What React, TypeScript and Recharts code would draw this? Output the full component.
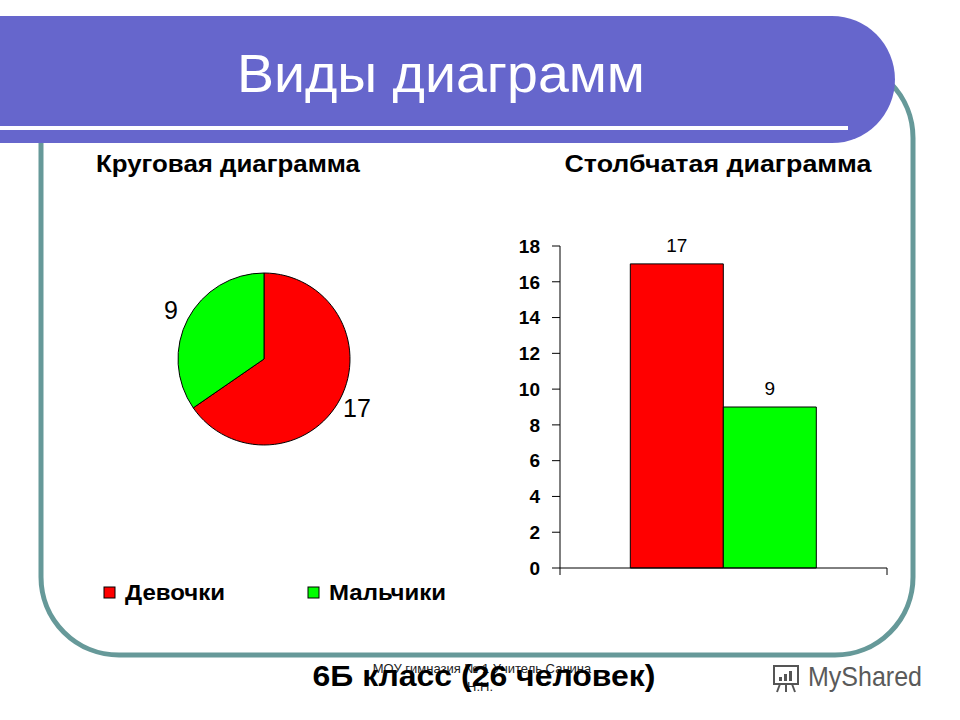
import React from "react";
import {
  PieChart,
  Pie,
  Cell,
  BarChart,
  Bar,
  XAxis,
  YAxis,
  LabelList,
} from "recharts";

// class 6Б: girls / boys
const categories = ["Девочки", "Мальчики"];
const counts = [17, 9];
const colors = ["#FF0000", "#00FF00"];
const barGroup = "6Б";
const yTicks = [0, 2, 4, 6, 8, 10, 12, 14, 16, 18];

const FONT = "'Liberation Sans', Arial, sans-serif";
const RAD = Math.PI / 180;

const pieData = categories.map((name, i) => ({ name, value: counts[i] }));
const barRow: Record<string, any> = { name: barGroup };
categories.forEach((c, i) => (barRow[c] = counts[i]));
const barData = [barRow];

function PieLabel(props: any) {
  const { cx, cy, midAngle, outerRadius, value } = props;
  const r = outerRadius + 19;
  const x = cx + r * Math.cos(-midAngle * RAD);
  const y = cy + r * Math.sin(-midAngle * RAD);
  return (
    <text
      x={x}
      y={y}
      textAnchor="middle"
      dominantBaseline="central"
      fontSize={25}
      fontFamily={FONT}
      fill="#000"
    >
      {value}
    </text>
  );
}

// Excel-style tick marks on the category edges
function EdgeTick(props: any) {
  const { x, y, payload } = props;
  const half = payload && payload.offset ? payload.offset : 0;
  return (
    <g>
      <line x1={x - half} y1={y} x2={x - half} y2={y + 7} stroke="#000" />
      <line x1={x + half} y1={y} x2={x + half} y2={y + 7} stroke="#000" />
    </g>
  );
}

export default function App() {
  return (
    <div
      style={{
        position: "absolute",
        left: 0,
        top: 0,
        width: 960,
        height: 720,
        background: "#fff",
        overflow: "hidden",
        fontFamily: FONT,
      }}
    >
      <svg
        width={960}
        height={720}
        style={{ position: "absolute", left: 0, top: 0 }}
      >
        {/* frame */}
        <rect
          x={41}
          y={60}
          width={872}
          height={595}
          rx={78}
          ry={78}
          fill="none"
          stroke="#669999"
          strokeWidth={5}
        />
        {/* title bar */}
        <path d="M0,16 H832 A63,63.5 0 0 1 832,143 H0 Z" fill="#6666CC" />
        <rect x={0} y={126} width={848} height={4} fill="#fff" />
        <text
          x={441}
          y={92}
          textAnchor="middle"
          fontSize={54}
          fill="#fff"
          textLength={408}
          lengthAdjust="spacingAndGlyphs"
        >
          Виды диаграмм
        </text>
        <text
          x={228}
          y={172}
          textAnchor="middle"
          fontSize={24}
          fontWeight="bold"
          fill="#000"
          textLength={264}
          lengthAdjust="spacingAndGlyphs"
        >
          Круговая диаграмма
        </text>
        <text
          x={718}
          y={172}
          textAnchor="middle"
          fontSize={24}
          fontWeight="bold"
          fill="#000"
          textLength={307}
          lengthAdjust="spacingAndGlyphs"
        >
          Столбчатая диаграмма
        </text>

        {/* pie legend */}
        {categories.map((c, i) => {
          const x0 = i === 0 ? 104 : 308;
          const w = i === 0 ? 100 : 117;
          return (
            <g key={c}>
              <rect
                x={x0}
                y={587}
                width={11}
                height={11}
                fill={colors[i]}
                stroke="#000"
                strokeWidth={1}
              />
              <text
                x={x0 + 21}
                y={600}
                fontSize={22}
                fontWeight="bold"
                fill="#000"
                textLength={w}
                lengthAdjust="spacingAndGlyphs"
              >
                {c}
              </text>
            </g>
          );
        })}

        {/* footer */}
        <text x={482} y={673} textAnchor="middle" fontSize={13} fill="#222">
          МОУ гимназия № 1 Учитель Санина
        </text>
        <text x={480} y={691} textAnchor="middle" fontSize={13} fill="#222">
          Н.Н.
        </text>
        <text
          x={484}
          y={686}
          textAnchor="middle"
          fontSize={29}
          fontWeight="bold"
          fill="#000"
          textLength={343}
          lengthAdjust="spacingAndGlyphs"
        >
          6Б класс (26 человек)
        </text>
        {/* watermark */}
        <g stroke="#555" strokeWidth={2} fill="none">
          <rect x={774} y={666} width={24} height={18} />
          <line x1={780} y1={684} x2={777} y2={692} />
          <line x1={786} y1={684} x2={786} y2={692} />
          <line x1={792} y1={684} x2={795} y2={692} />
        </g>
        <rect x={779} y={677} width={3} height={4} fill="#555" />
        <rect x={784} y={674} width={3} height={7} fill="#555" />
        <rect x={789} y={671} width={3} height={10} fill="#555" />
        <text
          x={808}
          y={686}
          fontSize={28}
          fill="#5a5a5a"
          textLength={114}
          lengthAdjust="spacingAndGlyphs"
        >
          MyShared
        </text>
      </svg>

      {/* pie chart */}
      <div style={{ position: "absolute", left: 109, top: 224 }}>
        <PieChart width={300} height={260}>
          <Pie
            data={pieData}
            dataKey="value"
            nameKey="name"
            cx={150}
            cy={130}
            outerRadius={86}
            startAngle={90}
            endAngle={-270}
            stroke="#000"
            strokeWidth={1}
            label={PieLabel}
            labelLine={false}
            isAnimationActive={false}
          >
            {pieData.map((d, i) => (
              <Cell key={d.name} fill={colors[i]} />
            ))}
          </Pie>
        </PieChart>
      </div>

      {/* bar chart */}
      <div style={{ position: "absolute", left: 480, top: 220 }}>
        <BarChart
          width={420}
          height={370}
          data={barData}
          margin={{ top: 26, right: 13, bottom: 7, left: 20 }}
          barGap={0}
          barCategoryGap="21.5%"
        >
          <XAxis
            dataKey="name"
            axisLine={{ stroke: "#000" }}
            tickLine={false}
            tickSize={0}
            tickMargin={0}
            height={15}
            tick={<EdgeTick />}
          />
          <YAxis
            width={60}
            domain={[0, 18]}
            ticks={yTicks}
            interval={0}
            axisLine={{ stroke: "#000" }}
            tickLine={{ stroke: "#000" }}
            tickSize={8}
            tickMargin={12}
            tick={{
              fill: "#000",
              fontSize: 19,
              fontWeight: "bold",
              fontFamily: FONT,
            }}
          />
          {categories.map((c, i) => (
            <Bar
              key={c}
              dataKey={c}
              fill={colors[i]}
              stroke="#000"
              strokeWidth={1}
              isAnimationActive={false}
            >
              <LabelList
                dataKey={c}
                position="top"
                offset={12}
                fill="#000"
                fontSize={19}
                fontFamily={FONT}
              />
            </Bar>
          ))}
        </BarChart>
      </div>
    </div>
  );
}
